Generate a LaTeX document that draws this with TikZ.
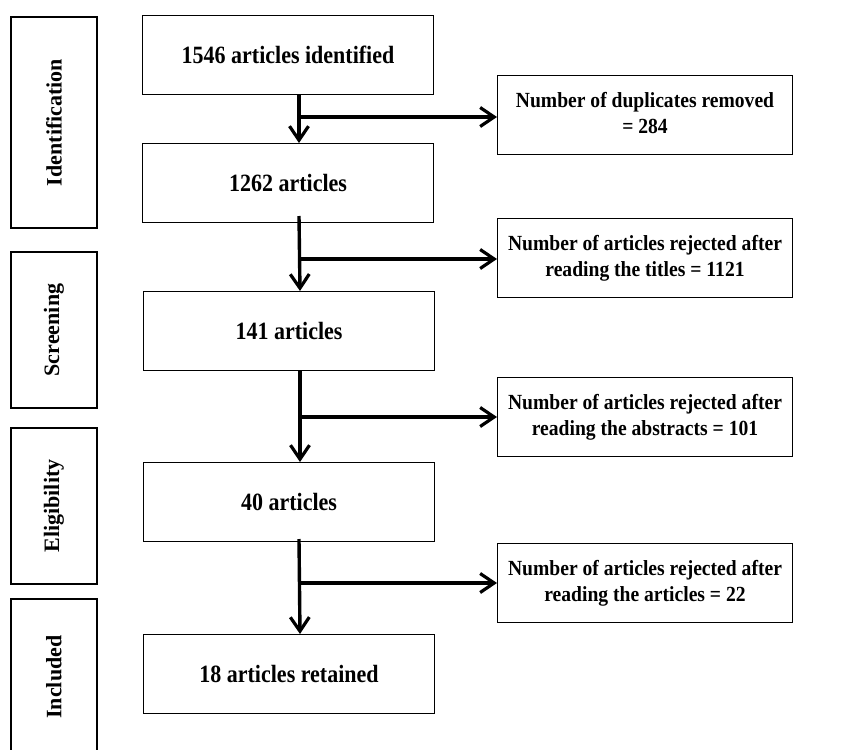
\documentclass[tikz,border=0pt]{standalone}
\usepackage{fontspec}
\usepackage{graphicx}
\setmainfont{Liberation Serif}
\usetikzlibrary{arrows.meta}
\newcommand{\vtext}[1]{\scalebox{1}[1.13]{#1}}
\newcommand{\vlines}[2]{\scalebox{1}[1.1]{\begin{tabular}{@{}c@{}}#1\\#2\end{tabular}}}
\begin{document}
\begin{tikzpicture}[x=1pt,y=-1pt,
  mainbox/.style={draw=black,line width=1pt,minimum width=291pt,minimum height=79pt,inner sep=0pt,font=\bfseries\fontsize{22}{26}\selectfont},
  sidebox/.style={draw=black,line width=1pt,minimum width=295pt,minimum height=79pt,inner sep=0pt,align=center,font=\bfseries\fontsize{19.6}{24.2}\selectfont},
  stagebox/.style={draw=black,line width=1.4pt,minimum width=86pt,inner sep=0pt},
  stagelabel/.style={rotate=90,font=\bfseries\fontsize{22}{26}\selectfont},
  arr/.style={line width=3.4pt,-{Straight Barb[length=14pt,width=19pt,line width=3.2pt]}}]
\useasboundingbox (0,0) rectangle (863,750);
% stage boxes
\node[stagebox,minimum height=211pt] (s1) at (54,122.5) {};
\node[stagelabel] (t1) at (s1.center) {Identification};
\node[stagebox,minimum height=156pt] (s2) at (54,330) {};
\node[stagelabel] (t2) at (s2.center) {Screening};
\node[stagebox,minimum height=156pt] (s3) at (54,506) {};
\node[stagelabel] (t3) at (s3.center) {Eligibility};
\draw[line width=1.4pt] (11,770) -- (11,599) -- (97,599) -- (97,770);
\node[stagelabel] (t4) at (54,677) {Included};
% main boxes
\node[mainbox] (b1) at (288,55) {\vtext{1546 articles identified}};
\node[mainbox] (b2) at (288,183) {\vtext{1262 articles}};
\node[mainbox] (b3) at (289,331) {\vtext{141 articles}};
\node[mainbox] (b4) at (289,502) {\vtext{40 articles}};
\node[mainbox] (b5) at (289,674) {\vtext{18 articles retained}};
% side boxes
\node[sidebox] (r1) at (645,115) {\vlines{Number of duplicates removed}{= 284}};
\node[sidebox] (r2) at (645,258) {\vlines{Number of articles rejected after}{reading the titles = 1121}};
\node[sidebox] (r3) at (645,417) {\vlines{Number of articles rejected after}{reading the abstracts = 101}};
\node[sidebox] (r4) at (645,583) {\vlines{Number of articles rejected after}{reading the articles = 22}};
% junction coordinates
\coordinate (x0) at (299,0);
\coordinate (j1) at (299,117);
\coordinate (j2) at (300,259);
\coordinate (j3) at (300,417);
\coordinate (j4) at (300,583);
% vertical arrows
\draw[arr] (b1.south -| x0) -- (b2.north -| x0);
\draw[arr] ([yshift=7pt]b2.south -| x0) -- (b3.north -| j2);
\draw[arr] (b3.south -| j3) -- (b4.north -| j3);
\draw[arr] ([yshift=3pt]b4.south -| x0) -- (b5.north -| j4);
% horizontal arrows
\draw[arr] ([xshift=-1.7pt]j1) -- (j1 -| r1.west);
\draw[arr] ([xshift=-1.7pt]j2) -- (j2 -| r2.west);
\draw[arr] ([xshift=-1.7pt]j3) -- (j3 -| r3.west);
\draw[arr] ([xshift=-1.7pt]j4) -- (j4 -| r4.west);
\end{tikzpicture}
\end{document}
